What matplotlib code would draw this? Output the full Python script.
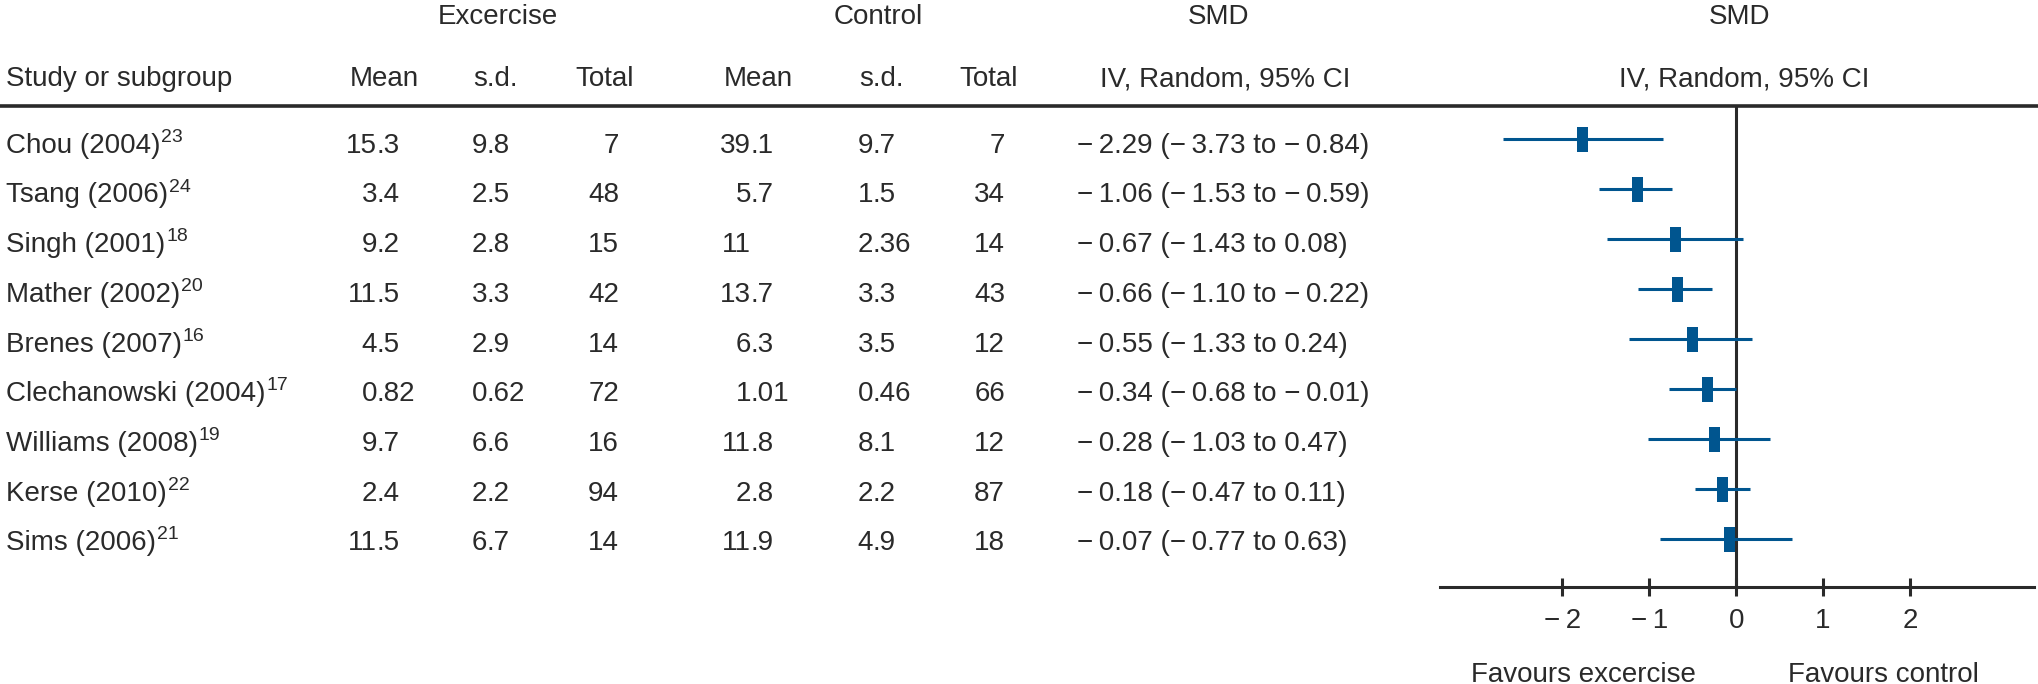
import matplotlib
matplotlib.use("Agg")
import matplotlib.pyplot as plt

W, H = 2038, 684
DARK = '#2a2a2a'
BLUE = '#00558f'

plt.rcParams['font.family'] = ['Liberation Sans', 'DejaVu Sans']
plt.rcParams['text.color'] = DARK

studies = ["Chou (2004)", "Tsang (2006)", "Singh (2001)", "Mather (2002)", "Brenes (2007)",
           "Clechanowski (2004)", "Williams (2008)", "Kerse (2010)", "Sims (2006)"]
refs = ["23", "24", "18", "20", "16", "17", "19", "22", "21"]
ex_mean = ["15.3", "3.4", "9.2", "11.5", "4.5", "0.82", "9.7", "2.4", "11.5"]
ex_sd = ["9.8", "2.5", "2.8", "3.3", "2.9", "0.62", "6.6", "2.2", "6.7"]
ex_total = [7, 48, 15, 42, 14, 72, 16, 94, 14]
ctrl_mean = ["39.1", "5.7", "11", "13.7", "6.3", "1.01", "11.8", "2.8", "11.9"]
ctrl_sd = ["9.7", "1.5", "2.36", "3.3", "3.5", "0.46", "8.1", "2.2", "4.9"]
ctrl_total = [7, 34, 14, 43, 12, 66, 12, 87, 18]
smd = [-2.29, -1.06, -0.67, -0.66, -0.55, -0.34, -0.28, -0.18, -0.07]
smd_lo = [-3.73, -1.53, -1.43, -1.10, -1.33, -0.68, -1.03, -0.47, -0.77]
smd_hi = [-0.84, -0.59, 0.08, -0.22, 0.24, -0.01, 0.47, 0.11, 0.63]

plot_est = [-1.77, -1.14, -0.70, -0.68, -0.51, -0.34, -0.25, -0.16, -0.08]
plot_lo = [-2.69, -1.58, -1.49, -1.13, -1.23, -0.77, -1.01, -0.47, -0.88]
plot_hi = [-0.84, -0.74, 0.08, -0.28, 0.18, 0.00, 0.39, 0.16, 0.64]

tick_vals = [-2, -1, 0, 1, 2]
tick_labels = ["\u2212\u20092", "\u2212\u20091", "0", "1", "2"]

FS = 20
ROW0, STEP = 152.8, 49.7


def fmt(v):
    s = f"{abs(v):.2f}"
    return ("\u2212\u2009" + s) if v < 0 else s


def dec_text(ax, x, y, s):
    # decimal aligned: integer part ends at x
    if '.' in s:
        ip, fp = s.split('.', 1)
        fp = '.' + fp
    else:
        ip, fp = s, ''
    ax.text(x, y, ip, ha='right', va='baseline', fontsize=FS)
    if fp:
        ax.text(x, y, fp, ha='left', va='baseline', fontsize=FS)


fig = plt.figure(figsize=(W / 100, H / 100), dpi=100)
fig.patch.set_facecolor('white')

tax = fig.add_axes([0, 0, 1, 1])
tax.set_xlim(0, W)
tax.set_ylim(H, 0)
tax.axis('off')

# headers
for x, s in [(498, "Excercise"), (878, "Control"), (1219, "SMD"), (1740, "SMD")]:
    tax.text(x, 24, s, ha='center', va='baseline', fontsize=FS)
tax.text(6, 86, "Study or subgroup", ha='left', va='baseline', fontsize=FS)
for x, s in [(384, "Mean"), (495, "s.d."), (605, "Total"), (758, "Mean"), (881, "s.d."),
             (989, "Total"), (1225, "IV, Random, 95% CI"), (1744, "IV, Random, 95% CI")]:
    tax.text(x, 86, s, ha='center', va='baseline', fontsize=FS)
tax.axhline(105.5, color=DARK, lw=2.6)

renderer = fig.canvas.get_renderer()
for i in range(len(studies)):
    y = ROW0 + STEP * i
    t = tax.text(6, y, studies[i], ha='left', va='baseline', fontsize=FS)
    bb = t.get_window_extent(renderer)
    tax.text(bb.x1 + 1, y - 11, refs[i], ha='left', va='baseline', fontsize=14)
    dec_text(tax, 377, y, ex_mean[i])
    dec_text(tax, 487, y, ex_sd[i])
    tax.text(619, y, str(ex_total[i]), ha='right', va='baseline', fontsize=FS)
    dec_text(tax, 751, y, ctrl_mean[i])
    dec_text(tax, 873, y, ctrl_sd[i])
    tax.text(1005, y, str(ctrl_total[i]), ha='right', va='baseline', fontsize=FS)
    tax.text(1077, y, f"{fmt(smd[i])} ({fmt(smd_lo[i])} to {fmt(smd_hi[i])})",
             ha='left', va='baseline', fontsize=FS)

tax.text(1471, 682, "Favours excercise", ha='left', va='baseline', fontsize=FS)
tax.text(1788, 682, "Favours control", ha='left', va='baseline', fontsize=FS)

# forest panel
fax = fig.add_axes([1440 / W, (H - 587) / H, (2034 - 1440) / W, (587 - 106) / H])
fax.patch.set_alpha(0)
rows = list(range(len(studies)))
fax.set_xlim(-3.41, 3.43)
fax.set_ylim(8.954, -0.666)
for side in ['top', 'left', 'right']:
    fax.spines[side].set_visible(False)
fax.spines['bottom'].set_color(DARK)
fax.spines['bottom'].set_linewidth(2.2)
fax.axvline(0, color=DARK, lw=2.2)
fax.hlines(rows, plot_lo, plot_hi, color=BLUE, lw=2.2)
box = [(-0.22, -0.5), (0.22, -0.5), (0.22, 0.5), (-0.22, 0.5), (-0.22, -0.5)]
fax.plot(plot_est, rows, ls='none', marker=box, ms=18, mfc=BLUE, mec=BLUE, mew=0)
fax.set_xticks(tick_vals)
fax.set_xticklabels(tick_labels)
fax.set_yticks([])
fax.tick_params(axis='x', direction='inout', length=13.5, width=2.2, color=DARK,
                pad=8.4, labelsize=FS, labelcolor=DARK)

fig.savefig("out.png", dpi=100)
